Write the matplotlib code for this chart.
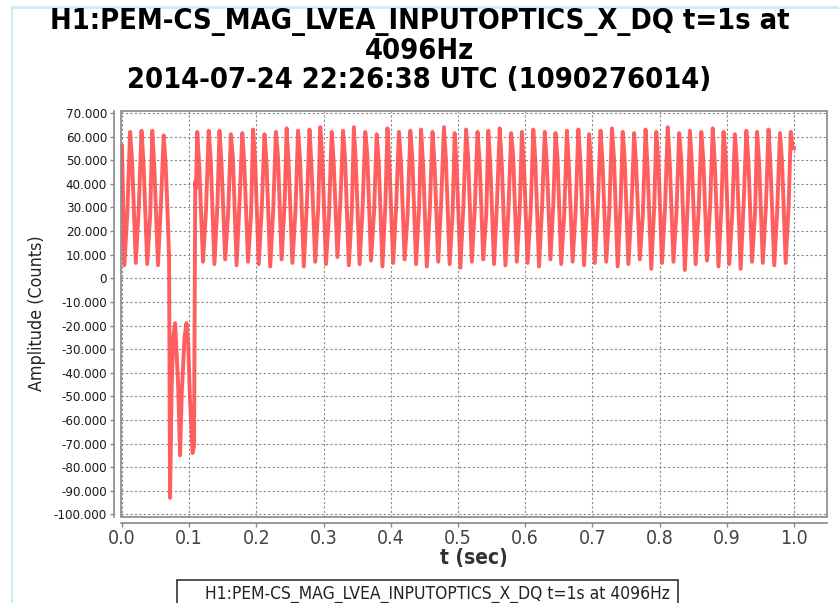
import numpy as np
import matplotlib
matplotlib.use("Agg")
import matplotlib.pyplot as plt
from matplotlib import font_manager as fm
from matplotlib.patches import Rectangle
from matplotlib.lines import Line2D

# ---------------- data ----------------
title_lines = ["H1:PEM-CS_MAG_LVEA_INPUTOPTICS_X_DQ t=1s at",
               "4096Hz",
               "2014-07-24 22:26:38 UTC (1090276014)"]
legend_label = "H1:PEM-CS_MAG_LVEA_INPUTOPTICS_X_DQ t=1s at 4096Hz"
x_label = "t (sec)"
y_label = "Amplitude (Counts)"

x_ticks = [0.0, 0.1, 0.2, 0.3, 0.4, 0.5, 0.6, 0.7, 0.8, 0.9, 1.0]
x_tick_labels = ["0.0", "0.1", "0.2", "0.3", "0.4", "0.5", "0.6", "0.7", "0.8", "0.9", "1.0"]
y_ticks = [70, 60, 50, 40, 30, 20, 10, 0, -10, -20, -30, -40, -50, -60, -70, -80, -90, -100]
y_tick_labels = ["70.000", "60.000", "50.000", "40.000", "30.000", "20.000", "10.000", "0",
                 "-10.000", "-20.000", "-30.000", "-40.000", "-50.000", "-60.000",
                 "-70.000", "-80.000", "-90.000", "-100.000"]

start_t = [0.0]
start_v = [56]
end_t = [0.9998]
end_v = [55]

peak_t = [0.012, 0.029, 0.045, 0.062, 0.112, 0.129, 0.145, 0.162, 0.179, 0.195,
          0.212, 0.229, 0.245, 0.262, 0.279, 0.295, 0.312, 0.329, 0.345, 0.362,
          0.379, 0.395, 0.412, 0.429, 0.445, 0.462, 0.479, 0.495, 0.512, 0.529,
          0.545, 0.562, 0.579, 0.595, 0.612, 0.629, 0.645, 0.662, 0.679, 0.695,
          0.712, 0.729, 0.745, 0.762, 0.779, 0.795, 0.812, 0.829, 0.845, 0.862,
          0.879, 0.895, 0.912, 0.929, 0.945, 0.962, 0.979, 0.995]
peak_v = [62, 62.5, 62.5, 60.5, 62, 62.5, 62.5, 61, 61.5, 63,
          61, 62, 63.5, 62.5, 63, 64, 62, 62.5, 64, 62,
          61, 63.5, 62, 62.5, 63, 62, 64, 61.5, 63, 62,
          62.5, 63.5, 61.5, 62, 63, 62, 61.5, 62.5, 63, 61,
          62.5, 63.5, 62, 61.5, 63, 62, 64, 61.5, 62.5, 62,
          63.5, 62, 61, 62.5, 62, 63, 61.5, 62]

fall_t = [0.015, 0.032, 0.048, 0.065, 0.115, 0.132, 0.148, 0.165, 0.182, 0.198,
          0.215, 0.232, 0.248, 0.265, 0.282, 0.298, 0.315, 0.332, 0.348, 0.365,
          0.382, 0.398, 0.415, 0.432, 0.448, 0.465, 0.482, 0.498, 0.515, 0.532,
          0.548, 0.565, 0.582, 0.598, 0.615, 0.632, 0.648, 0.665, 0.682, 0.698,
          0.715, 0.732, 0.748, 0.765, 0.782, 0.798, 0.815, 0.832, 0.848, 0.865,
          0.882, 0.898, 0.915, 0.932, 0.948, 0.965, 0.982, 0.998]
fall_v = [50, 49, 48, 48, 47, 50, 49, 51, 48, 50,
          49, 52, 48, 50, 47, 51, 49, 50, 48, 52,
          49, 47, 50, 51, 48, 49, 50, 47, 51, 50,
          48, 49, 52, 48, 50, 49, 51, 47, 50, 48,
          49, 51, 50, 48, 47, 50, 49, 51, 48, 50,
          49, 52, 48, 50, 49, 47, 50, 55]

trough_t = [0.0035, 0.0205, 0.0375, 0.0535, 0.1205, 0.1375, 0.1535, 0.1705, 0.1875, 0.2035,
            0.2205, 0.2375, 0.2535, 0.2705, 0.2875, 0.3035, 0.3205, 0.3375, 0.3535, 0.3705,
            0.3875, 0.4035, 0.4205, 0.4375, 0.4535, 0.4705, 0.4875, 0.5035, 0.5205, 0.5375,
            0.5535, 0.5705, 0.5875, 0.6035, 0.6205, 0.6375, 0.6535, 0.6705, 0.6875, 0.7035,
            0.7205, 0.7375, 0.7535, 0.7705, 0.7875, 0.8035, 0.8205, 0.8375, 0.8535, 0.8705,
            0.8875, 0.9035, 0.9205, 0.9375, 0.9535, 0.9705, 0.9875]
trough_v = [5.5, 6.5, 6, 5.5, 7, 6, 8, 5.5, 7, 6,
            5, 8, 6.5, 5, 7, 6, 9, 5.5, 6, 7.5,
            5, 6.5, 8, 6, 5, 7, 6, 4.5, 7, 8,
            6, 5.5, 7, 6.5, 5, 8, 6, 7, 5.5, 6.5,
            7, 5, 6, 8, 4, 6.5, 7, 3.5, 6, 7.5,
            5, 6, 4, 7, 6.5, 5.5, 6.5]

rise_t = [0.008, 0.025, 0.042, 0.058, 0.125, 0.142, 0.158, 0.175, 0.192, 0.208,
          0.225, 0.242, 0.258, 0.275, 0.292, 0.308, 0.325, 0.342, 0.358, 0.375,
          0.392, 0.408, 0.425, 0.442, 0.458, 0.475, 0.492, 0.508, 0.525, 0.542,
          0.558, 0.575, 0.592, 0.608, 0.625, 0.642, 0.658, 0.675, 0.692, 0.708,
          0.725, 0.742, 0.758, 0.775, 0.792, 0.808, 0.825, 0.842, 0.858, 0.875,
          0.892, 0.908, 0.925, 0.942, 0.958, 0.975, 0.992]
rise_v = [28, 30, 27, 32, 29, 31, 28, 33, 27, 30,
          29, 32, 28, 31, 30, 27, 33, 29, 30, 28,
          32, 31, 27, 30, 29, 33, 28, 31, 30, 27,
          32, 29, 31, 28, 30, 33, 27, 29, 31, 30,
          28, 32, 29, 27, 31, 30, 28, 33, 29, 30,
          31, 27, 32, 28, 30, 29, 31]

glitch_t = [0.0675, 0.0700, 0.0715, 0.0740, 0.0765, 0.0790, 0.0810, 0.0835, 0.0864,
            0.0890, 0.0930, 0.0960, 0.0985, 0.1010, 0.1050, 0.1072, 0.1090, 0.1100]
glitch_v = [30, 9, -93, -45, -24, -19, -30, -45, -75,
            -48, -25, -19, -28, -50, -74, -71, 41, 38]

# ---------------- assemble polyline ----------------
t_all = np.array(start_t + peak_t + fall_t + trough_t + rise_t + glitch_t + end_t, dtype=float)
v_all = np.array(start_v + peak_v + fall_v + trough_v + rise_v + glitch_v + end_v, dtype=float)
order = np.argsort(t_all, kind="stable")
t_all = t_all[order]
v_all = v_all[order]

# ---------------- fonts ----------------
cond_bold = None
cond_reg = None
for f in fm.fontManager.ttflist:
    fn = f.fname.lower()
    if "dejavusanscondensed-bold.ttf" in fn:
        cond_bold = f.fname
    if fn.endswith("dejavusanscondensed.ttf"):
        cond_reg = f.fname

def fp_bold(size):
    if cond_bold:
        return fm.FontProperties(fname=cond_bold, size=size)
    return fm.FontProperties(family="DejaVu Sans", weight="bold", size=size)

def fp_reg(size):
    if cond_reg:
        return fm.FontProperties(fname=cond_reg, size=size)
    return fm.FontProperties(family="DejaVu Sans", size=size)

W, H = 839, 603
fig = plt.figure(figsize=(W / 100, H / 100), dpi=100)
fig.patch.set_facecolor("white")

L, R, T, B = 121, 827, 111, 517
ax = fig.add_axes([L / W, 1 - B / H, (R - L) / W, (B - T) / H])
ax.set_facecolor("white")

ax.plot(t_all, v_all, color="#ff4d4d", lw=2.8, alpha=0.9, solid_joinstyle="round", zorder=3)

ax.set_xlim(-0.0015, 1.049)
ax.set_ylim(-101.1, 70.85)

ax.grid(True, color="#8a8a8a", linestyle=(0, (2, 2)), lw=0.8, zorder=0)

for side in ["top", "right"]:
    ax.spines[side].set_visible(False)
ax.spines["left"].set_position(("outward", 5))
ax.spines["bottom"].set_position(("outward", 4))
for side in ["left", "bottom"]:
    ax.spines[side].set_color("#888888")
    ax.spines[side].set_linewidth(1.2)
ax.tick_params(axis="both", direction="out", length=3, width=1, color="#888888")
ax.tick_params(axis="x", pad=2, labelcolor="#444444")
ax.tick_params(axis="y", pad=2, labelcolor="#1a1a1a")

ax.set_xticks(x_ticks)
ax.set_xticklabels(x_tick_labels, fontproperties=fp_reg(14))
ax.set_yticks(y_ticks)
ax.set_yticklabels(y_tick_labels, fontproperties=fp_reg(9.5))

ax.add_patch(Rectangle((0, 0), 1, 1, transform=ax.transAxes, fill=False,
                       ec="#888888", lw=1.2, zorder=5, clip_on=False))

ax.set_xlabel(x_label, fontproperties=fp_bold(15), color="#333333")
ax.xaxis.set_label_coords((474 - L) / (R - L), -(558 - B) / (B - T))
ax.xaxis.label.set_va("center")
ax.set_ylabel(y_label, fontproperties=fp_reg(12.8), color="#222222")
ax.yaxis.set_label_coords(-(L - 37) / (R - L), (B - 313) / (B - T))
ax.yaxis.label.set_va("center")

# title
title_y = [22, 51, 80]
for line, yy in zip(title_lines, title_y):
    fig.text(0.5, 1 - yy / H, line, ha="center", va="center",
             fontproperties=fp_bold(20.8), color="black")

# legend box (cut off at the bottom)
fig.add_artist(Rectangle((177 / W, -0.05), (678 - 177) / W, (H - 580) / H + 0.05,
                         transform=fig.transFigure, fill=False, ec="#333333", lw=1.2))
fig.text(205 / W, 1 - 594 / H, legend_label, ha="left", va="center",
         fontproperties=fp_reg(12.5), color="#222222")

# light frame remnants
fig.add_artist(Line2D([12 / W, 12 / W], [0, 1 - 8 / H], transform=fig.transFigure,
                      color="#c9eef8", lw=1.5))
fig.add_artist(Line2D([12 / W, 1], [1 - 7 / H, 1 - 7 / H], transform=fig.transFigure,
                      color="#c9eef8", lw=2))

fig.savefig("out.png", dpi=100)
